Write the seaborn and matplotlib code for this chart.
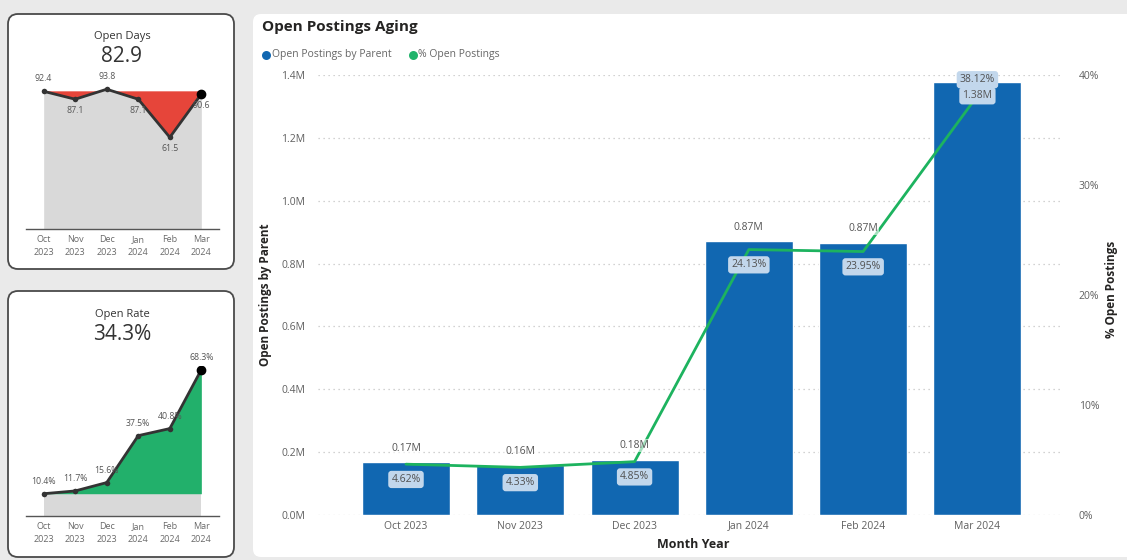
import numpy as np
import matplotlib
matplotlib.use("Agg")
import matplotlib.pyplot as plt
import seaborn as sns
from matplotlib.patches import FancyBboxPatch

# ---------------- data ----------------
months = ["Oct 2023", "Nov 2023", "Dec 2023", "Jan 2024", "Feb 2024", "Mar 2024"]
month_ticks = ["Oct\n2023", "Nov\n2023", "Dec\n2023", "Jan\n2024", "Feb\n2024", "Mar\n2024"]
postings = [0.168e6, 0.158e6, 0.176e6, 0.872e6, 0.867e6, 1.378e6]
pct_open = [4.62, 4.33, 4.85, 24.13, 23.95, 38.12]
open_days = [92.4, 87.1, 93.8, 87.1, 61.5, 90.6]
open_rate = [10.4, 11.7, 15.6, 37.5, 40.8, 68.3]
open_days_kpi = "82.9"
open_rate_kpi = "34.3%"
left_ticks = [0, 0.2e6, 0.4e6, 0.6e6, 0.8e6, 1.0e6, 1.2e6, 1.4e6]
right_ticks = [0, 10, 20, 30, 40]

BAR = "#1167b1"
LINE_G = "#1db35f"
GRAY_TXT = "#606060"

sns.set_theme(style="white")
plt.rcParams["font.family"] = ["Open Sans", "DejaVu Sans"]

W, H = 1127, 560
fig = plt.figure(figsize=(W / 100, H / 100), dpi=100)
fig.patch.set_facecolor("#eaeaea")

# background axes in pixel coordinates
bg = fig.add_axes([0, 0, 1, 1], zorder=0)
bg.set_xlim(0, W)
bg.set_ylim(H, 0)
bg.axis("off")


def card(x0, y0, x1, y1, r, ec="none", lw=0):
    p = FancyBboxPatch((x0 + r, y0 + r), (x1 - x0) - 2 * r, (y1 - y0) - 2 * r,
                       boxstyle=f"round,pad={r}", fc="white", ec=ec, lw=lw)
    bg.add_patch(p)


card(253, 14, 1140, 557, 8)
card(8, 14, 234, 269, 10, ec="#4a4a4a", lw=1.3)
card(8, 291, 234, 557, 10, ec="#4a4a4a", lw=1.3)

# ---------------- main chart ----------------
ax = fig.add_axes([318 / W, 45 / H, (1062 - 318) / W, 440 / H], zorder=2)
ax.patch.set_alpha(0)
sns.barplot(x=months, y=postings, color=BAR, saturation=1, width=0.77, ax=ax, zorder=2)
ax.set_xlim(-0.77, 5.74)
ax.set_ylim(0, 1.4e6)
ax.set_yticks(left_ticks)
ax.set_yticklabels([f"{v / 1e6:.1f}M" for v in left_ticks])
ax.yaxis.grid(True, linestyle=(0, (1, 3)), color="#c4c4c4", lw=0.9)
ax.set_axisbelow(True)
ax.tick_params(axis="y", length=0, pad=9, labelsize=7.5, labelcolor=GRAY_TXT)
ax.tick_params(axis="x", length=0, pad=4, labelsize=7.5, labelcolor=GRAY_TXT)
ax.set_xlabel("")
ax.set_ylabel("")
for s in ax.spines.values():
    s.set_visible(False)

ax2 = ax.twinx()
ax2.set_zorder(3)
sns.lineplot(x=months, y=pct_open, sort=False, color=LINE_G, lw=2, ax=ax2)
ax2.set_xlim(-0.77, 5.74)
ax2.set_ylim(0, 40)
ax2.set_yticks(right_ticks)
ax2.set_yticklabels([f"{v}%" for v in right_ticks])
ax2.tick_params(axis="y", length=0, pad=12, labelsize=7.5, labelcolor=GRAY_TXT)
ax2.set_ylabel("")
ax2.set_xlabel("")
for s in ax2.spines.values():
    s.set_visible(False)

box_kw = dict(boxstyle="round,pad=0.3,rounding_size=0.3", fc="#c2d7ec", ec="none")
n = len(months)
for i, v in enumerate(postings):
    lab = f"{v / 1e6:.2f}M"
    if i < n - 1:
        ax2.annotate(lab, (i, v), xycoords=ax.transData, xytext=(0, 10),
                     textcoords="offset points", ha="center", va="center",
                     fontsize=7.5, color="#555555", zorder=6,
                     bbox=dict(boxstyle="square,pad=0.1", fc="white", ec="none", alpha=0.6))
    else:
        ax2.annotate(lab, (i, v), xycoords=ax.transData, xytext=(0, -10),
                     textcoords="offset points", ha="center", va="center",
                     fontsize=7.5, color="#555555", zorder=6, bbox=box_kw)
for i, p in enumerate(pct_open):
    off = -11 if i < n - 1 else 11.5
    ax2.annotate(f"{p:.2f}%", (i, p), xytext=(0, off), textcoords="offset points",
                 ha="center", va="center", fontsize=7.5, color="#505050",
                 zorder=7, bbox=box_kw)

# titles / axis labels / legend
bg.text(262, 27, "Open Postings Aging", fontsize=11, fontweight="bold",
        color="#252423", ha="left", va="center")
bg.scatter([266], [55], s=42, color=BAR, zorder=3, linewidths=0)
bg.text(271.5, 55, "Open Postings by Parent", fontsize=7.5, color="#666666",
        ha="left", va="center")
bg.scatter([413], [55], s=42, color="#21b36b", zorder=3, linewidths=0)
bg.text(418.5, 55, "% Open Postings", fontsize=7.5, color="#666666",
        ha="left", va="center")
bg.text(266, 295, "Open Postings by Parent", fontsize=8.5, fontweight="bold",
        color="#252423", rotation=90, ha="center", va="center")
bg.text(1111, 289, "% Open Postings", fontsize=8.5, fontweight="bold",
        color="#252423", rotation=90, ha="center", va="center")
bg.text(693, 545, "Month Year", fontsize=9, fontweight="bold",
        color="#252423", ha="center", va="center")


# ---------------- KPI sparklines ----------------
def sparkline(rect, vals, ylim, fill_color, labels_below, gray_to_line, fmt):
    a = fig.add_axes(rect, zorder=2)
    a.patch.set_alpha(0)
    xs = np.arange(len(vals))
    v = np.asarray(vals, dtype=float)
    ref = v[0]
    if gray_to_line:
        a.fill_between(xs, 0, v, color="#d9d9d9", lw=0, zorder=1)
        a.fill_between(xs, v, ref, where=v <= ref, interpolate=True,
                       color=fill_color, lw=0, zorder=2)
    else:
        a.fill_between(xs, 0, ref, color="#d9d9d9", lw=0, zorder=1)
        a.fill_between(xs, ref, v, where=v >= ref, interpolate=True,
                       color=fill_color, lw=0, zorder=2)
    sns.lineplot(x=xs, y=v, color="#333333", lw=2, marker="o", markersize=4,
                 markeredgewidth=0, ax=a, zorder=3)
    a.scatter([xs[-1]], [v[-1]], s=36, color="black", zorder=4)
    for i, val in enumerate(v):
        below = labels_below[i]
        a.annotate(fmt(val), (i, val), xytext=(0, -8 if below else 9),
                   textcoords="offset points", ha="center", va="center",
                   fontsize=6.3, color="#555555", zorder=5, annotation_clip=False)
    a.set_xlim(-0.56, len(vals) - 1 + 0.56)
    a.set_ylim(*ylim)
    a.set_xticks(xs)
    a.set_xticklabels(month_ticks, linespacing=1.55)
    a.set_yticks([])
    a.tick_params(axis="x", length=0, pad=4.5, labelsize=6.5, labelcolor="#6a6a6a")
    a.set_xlabel("")
    a.set_ylabel("")
    for k, s in a.spines.items():
        s.set_visible(k == "bottom")
    a.spines["bottom"].set_color("#555555")
    a.spines["bottom"].set_linewidth(1)
    return a


sparkline([26 / W, (H - 229) / H, 193 / W, 149 / H], open_days, (0, 100), "#e6453a",
          [False, True, False, True, True, True], True, lambda x: f"{x:.1f}")
sparkline([26 / W, (H - 516) / H, 193 / W, 150 / H], open_rate, (0, 70), "#22b06b",
          [False] * 6, False, lambda x: f"{x:.1f}%")

bg.text(122, 36, "Open Days", fontsize=8, color="#333333", ha="center", va="center")
bg.text(122, 56, open_days_kpi, fontsize=15, color="#333333", ha="center", va="center")
bg.text(122, 314, "Open Rate", fontsize=8, color="#333333", ha="center", va="center")
bg.text(122, 335, open_rate_kpi, fontsize=15, color="#333333", ha="center", va="center")

fig.savefig("out.png", dpi=100, facecolor=fig.get_facecolor())
